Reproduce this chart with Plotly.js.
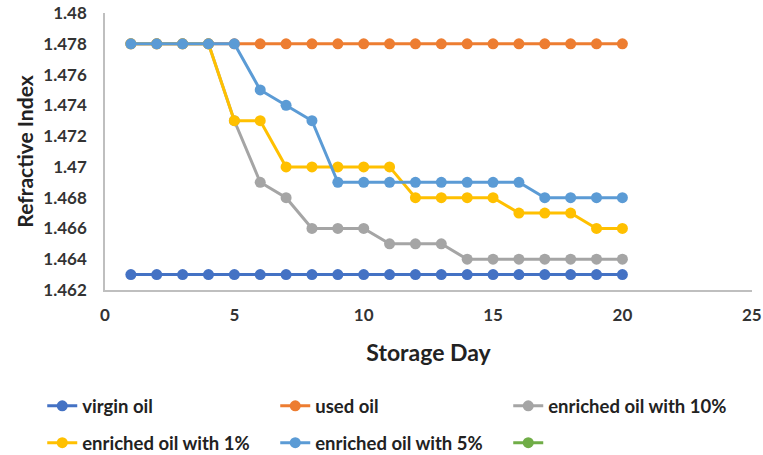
<!DOCTYPE html>
<html>
<head>
<meta charset="utf-8">
<script src="https://cdn.plot.ly/plotly-3.0.1.min.js"></script>
<style>html,body{margin:0;padding:0;background:#fff;}#chart{width:763px;height:455px;}</style>
</head>
<body>
<div id="chart"></div>
<script>
const days = [1,2,3,4,5,6,7,8,9,10,11,12,13,14,15,16,17,18,19,20];
const virginOil = [1.463,1.463,1.463,1.463,1.463,1.463,1.463,1.463,1.463,1.463,1.463,1.463,1.463,1.463,1.463,1.463,1.463,1.463,1.463,1.463];
const usedOil = [1.478,1.478,1.478,1.478,1.478,1.478,1.478,1.478,1.478,1.478,1.478,1.478,1.478,1.478,1.478,1.478,1.478,1.478,1.478,1.478];
const enriched10 = [1.478,1.478,1.478,1.478,1.473,1.469,1.468,1.466,1.466,1.466,1.465,1.465,1.465,1.464,1.464,1.464,1.464,1.464,1.464,1.464];
const enriched1 = [1.478,1.478,1.478,1.478,1.473,1.473,1.470,1.470,1.470,1.470,1.470,1.468,1.468,1.468,1.468,1.467,1.467,1.467,1.466,1.466];
const enriched5 = [1.478,1.478,1.478,1.478,1.478,1.475,1.474,1.473,1.469,1.469,1.469,1.469,1.469,1.469,1.469,1.469,1.468,1.468,1.468,1.468];
const emptyDays = [null];
const emptySeries = [null];

const fam = 'Lato, "Noto Sans", sans-serif';
function tr(name, x, y, color, legend) {
  return {
    x: x, y: y, name: name, type: 'scatter', mode: 'lines+markers',
    line: {color: color, width: 3}, marker: {color: color, size: 11},
    legend: legend
  };
}
const data = [
  tr('virgin oil', days, virginOil, '#4472C4', 'legend'),
  tr('used oil', days, usedOil, '#ED7D31', 'legend'),
  tr('enriched oil with 10%', days, enriched10, '#A5A5A5', 'legend'),
  tr('enriched oil with 1%', days, enriched1, '#FFC000', 'legend2'),
  tr('enriched oil with 5%', days, enriched5, '#5B9BD5', 'legend2'),
  tr(' ', emptyDays, emptySeries, '#70AD47', 'legend2')
];
const legendBase = {
  orientation: 'h', xanchor: 'left', yanchor: 'middle', x: -0.097,
  entrywidth: 188, entrywidthmode: 'pixels', traceorder: 'normal',
  font: {family: fam, size: 18.5, color: '#222', weight: 'bold'}, bgcolor: 'rgba(0,0,0,0)', itemwidth: 30
};
const layout = {
  width: 763, height: 455,
  margin: {l: 105, r: 11, t: 13, b: 165, autoexpand: false},
  paper_bgcolor: '#fff', plot_bgcolor: '#fff',
  font: {family: fam, size: 16, color: '#333'},
  xaxis: {
    range: [0, 25.01], dtick: 5, tick0: 0, showgrid: false, zeroline: false,
    showline: true, linecolor: '#BFBFBF', linewidth: 2, ticks: '', ticklabelstandoff: 9,
    tickfont: {family: fam, size: 17, color: '#333', weight: 'bold'},
    title: {text: 'Storage Day', font: {family: fam, size: 23, color: '#222', weight: 'bold'}, standoff: 20}
  },
  yaxis: {
    range: [1.462, 1.48], dtick: 0.002, tick0: 1.462, showgrid: false, zeroline: false,
    showline: true, linecolor: '#BFBFBF', linewidth: 2, ticks: '',
    ticksuffix: '\u2002\u2009\u2009',
    tickfont: {family: fam, size: 17, color: '#333', weight: 'bold'},
    title: {text: 'Refractive Index', font: {family: fam, size: 21, color: '#222', weight: 'bold'}, standoff: 4}
  },
  legend: Object.assign({}, legendBase, {y: -0.42}),
  legend2: Object.assign({}, legendBase, {y: -0.553})
};
Plotly.newPlot('chart', data, layout, {displayModeBar: false, staticPlot: true});
</script>
</body>
</html>
